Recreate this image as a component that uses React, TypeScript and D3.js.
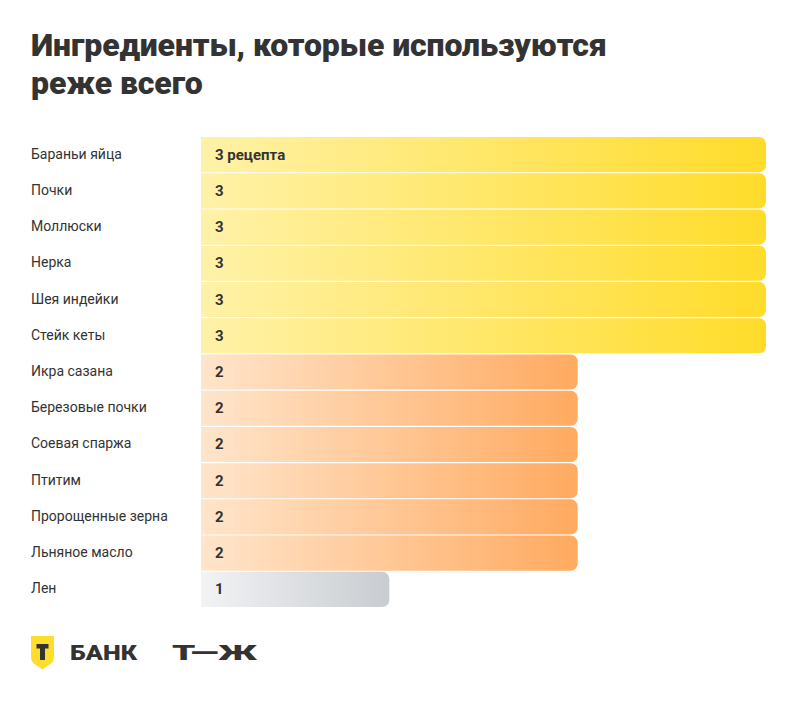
import React, { useEffect, useRef } from 'react';
import * as d3 from 'd3';

const categories = [
  'Бараньи яйца',
  'Почки',
  'Моллюски',
  'Нерка',
  'Шея индейки',
  'Стейк кеты',
  'Икра сазана',
  'Березовые почки',
  'Соевая спаржа',
  'Птитим',
  'Пророщенные зерна',
  'Льняное масло',
  'Лен',
];
const values = [3, 3, 3, 3, 3, 3, 2, 2, 2, 2, 2, 2, 1];
const valueLabels = ['3 рецепта', '3', '3', '3', '3', '3', '2', '2', '2', '2', '2', '2', '1'];

const W = 800;
const H = 701;

const gradients: Record<number, [string, string]> = {
  3: ['#fff2a8', '#ffdc2a'],
  2: ['#ffe5cb', '#ffaa60'],
  1: ['#f1f3f5', '#c9ccd0'],
};

const App: React.FC = () => {
  const ref = useRef<SVGSVGElement>(null);

  useEffect(() => {
    const svg = d3.select(ref.current);
    svg.selectAll('*').remove();

    const font = 'Roboto, "Noto Sans", sans-serif';

    // Заголовок
    const title = svg.append('text')
      .attr('x', 31)
      .style('font-family', font)
      .style('font-size', '32px')
      .style('font-weight', 900)
      .style('letter-spacing', '-0.1px')
      .attr('fill', '#333333');
    title.append('tspan').attr('x', 31).attr('y', 56).text('Ингредиенты, которые используются');
    title.append('tspan').attr('x', 31).attr('y', 94).text('реже всего');

    const x = d3.scaleLinear().domain([0, 3]).range([201, 766]);
    const y = d3.scaleBand<string>().domain(categories).range([137, 607]).paddingInner(0.03);

    const defs = svg.append('defs');
    Object.entries(gradients).forEach(([k, [c0, c1]]) => {
      const g = defs.append('linearGradient').attr('id', `grad${k}`)
        .attr('x1', '0%').attr('x2', '100%').attr('y1', '0%').attr('y2', '0%');
      g.append('stop').attr('offset', '0%').attr('stop-color', c0);
      g.append('stop').attr('offset', '100%').attr('stop-color', c1);
    });

    const r = 7;
    const barPath = (x0: number, x1: number, y0: number, h: number) => {
      const p = d3.path();
      p.moveTo(x0, y0);
      p.lineTo(x1 - r, y0);
      p.arcTo(x1, y0, x1, y0 + r, r);
      p.lineTo(x1, y0 + h - r);
      p.arcTo(x1, y0 + h, x1 - r, y0 + h, r);
      p.lineTo(x0, y0 + h);
      p.closePath();
      return p.toString();
    };

    const rows = svg.append('g');
    categories.forEach((c, i) => {
      const y0 = y(c)!;
      const h = y.bandwidth();
      rows.append('path')
        .attr('d', barPath(x(0), x(values[i]), y0, h))
        .attr('fill', `url(#grad${values[i]})`);
      rows.append('text')
        .attr('x', 31)
        .attr('y', y0 + h / 2 + 4)
        .style('font-family', font)
        .style('font-size', '14px')
        .attr('fill', '#333333')
        .text(c);
      rows.append('text')
        .attr('x', 215)
        .attr('y', y0 + h / 2 + 5)
        .style('font-family', font)
        .style('font-size', '15px')
        .style('font-weight', 700)
        .attr('fill', '#333333')
        .text(valueLabels[i]);
    });

    // Логотипы
    const logo = svg.append('g');
    logo.append('path')
      .attr('d', 'M31,636 L54,636 L54,657 Q54,662 49,665 L42.5,669.5 L36,665 Q31,662 31,657 Z')
      .attr('fill', '#ffdd2d');
    logo.append('path')
      .attr('d', 'M36.5,644 L48.5,644 L48.5,648.5 L45,648.5 L45,660 L40,660 L40,648.5 L36.5,648.5 Z')
      .attr('fill', '#333333');
    logo.append('text')
      .attr('x', 70)
      .attr('y', 660)
      .style('font-family', font)
      .style('font-size', '21px')
      .style('font-weight', 900)
      .attr('fill', '#333333')
      .attr('textLength', 67)
      .attr('lengthAdjust', 'spacingAndGlyphs')
      .text('БАНК');
    logo.append('text')
      .attr('x', 172)
      .attr('y', 660)
      .style('font-family', font)
      .style('font-size', '20px')
      .style('font-weight', 900)
      .attr('fill', '#333333')
      .attr('textLength', 85)
      .attr('lengthAdjust', 'spacingAndGlyphs')
      .text('Т—Ж');
  }, []);

  return (
    <svg ref={ref} width={W} height={H} style={{ display: 'block', position: 'absolute', left: 0, top: 0, background: '#ffffff' }} />
  );
};

export default App;
